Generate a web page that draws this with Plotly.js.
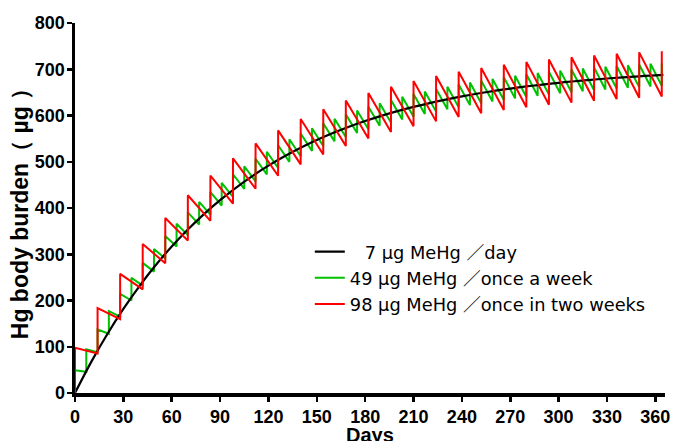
<!DOCTYPE html>
<html>
<head>
<meta charset="utf-8">
<script src="https://cdn.plot.ly/plotly-3.0.1.min.js"></script>
<style>html,body{margin:0;padding:0;background:#fff;}#chart{width:673px;height:441px;}</style>
</head>
<body>
<div id="chart"></div>
<script>
// ---- Data ----
// 7 ug MeHg / day (smooth curve)
const dailyDays = [0,10,20,30,40,50,60,70,80,90,100,110,120,130,140,150,160,170,180,190,200,210,220,230,240,250,260,270,280,290,300,310,320,330,340,350,360,365];
const dailyBurden = [0,66.7,127.0,181.7,231.2,276.1,316.7,353.5,386.8,417.0,444.3,469.1,491.5,511.8,530.2,546.9,562.0,575.6,588.0,599.2,609.4,618.6,626.9,634.4,641.3,647.5,653.1,658.2,662.8,666.9,670.7,674.1,677.2,680.0,682.5,684.8,686.9,687.9];

// 49 ug MeHg / once a week : burden just before and just after each dose
const weeklyDays = [0,7,14,21,28,35,42,49,56,63,70,77,84,91,98,105,112,119,126,133,140,147,154,161,168,175,182,189,196,203,210,217,224,231,238,245,252,259,266,273,280,287,294,301,308,315,322,329,336,343,350,357,364];
const weeklyBefore = [0,45.7,88.4,128.2,165.3,200.0,232.3,262.5,290.6,316.9,341.4,364.2,385.5,405.4,424.0,441.3,457.5,472.6,486.7,499.8,512.0,523.5,534.1,544.1,553.4,562.0,570.1,577.6,584.7,591.3,597.4,603.1,608.4,613.4,618.0,622.4,626.4,630.2,633.7,637.0,640.0,642.9,645.6,648.1,650.4,652.5,654.6,656.4,658.2,659.8,661.4,662.8,664.1];
const weeklyAfter = [49,94.7,137.4,177.2,214.3,249.0,281.3,311.5,339.6,365.9,390.4,413.2,434.5,454.4,473.0,490.3,506.5,521.6,535.7,548.8,561.0,572.5,583.1,593.1,602.4,611.0,619.1,626.6,633.7,640.3,646.4,652.1,657.4,662.4,667.0,671.4,675.4,679.2,682.7,686.0,689.0,691.9,694.6,697.1,699.4,701.5,703.6,705.4,707.2,708.8,710.4,711.8,713.1];

// 98 ug MeHg / once in two weeks : burden just before and just after each dose
const biweeklyDays = [0,14,28,42,56,70,84,98,112,126,140,154,168,182,196,210,224,238,252,266,280,294,308,322,336,350,364];
const biweeklyBefore = [0,85.3,159.6,224.2,280.5,329.5,372.2,409.3,441.7,469.8,494.3,515.6,534.2,550.4,564.4,576.7,587.3,596.6,604.7,611.7,617.9,623.2,627.8,631.9,635.4,638.5,641.1];
const biweeklyAfter = [98,183.3,257.6,322.2,378.5,427.5,470.2,507.3,539.7,567.8,592.3,613.6,632.2,648.4,662.4,674.7,685.3,694.6,702.7,709.7,715.9,721.2,725.8,729.9,733.4,736.5,739.1];

const seriesNames = ['\u2007\u20097 µg MeHg ／day', '49 µg MeHg ／once a week', '98 µg MeHg ／once in two weeks'];
const xTickVals = [0,30,60,90,120,150,180,210,240,270,300,330,360];
const yTickVals = [0,100,200,300,400,500,600,700,800];
const xTitle = 'Days';
const yTitle = '\u00a0\u00a0Hg body burden（ µg ）';

// Build step (dose jump) paths from the before/after arrays
function doseSeries(days, before, after) {
  const x = [], y = [];
  for (let i = 0; i < days.length; i++) {
    x.push(days[i], days[i]);
    y.push(before[i], after[i]);
  }
  return {x, y};
}
const wk = doseSeries(weeklyDays, weeklyBefore, weeklyAfter);
const bw = doseSeries(biweeklyDays, biweeklyBefore, biweeklyAfter);

const traces = [
  {x: wk.x, y: wk.y, mode: 'lines', name: seriesNames[1], legendrank: 2,
   line: {color: '#00C000', width: 2}},
  {x: dailyDays, y: dailyBurden, mode: 'lines', name: seriesNames[0], legendrank: 1,
   line: {color: '#000000', width: 2.2, shape: 'spline'}},
  {x: bw.x, y: bw.y, mode: 'lines', name: seriesNames[2], legendrank: 3,
   line: {color: '#FF0000', width: 2}}
];

const boldFont = 'Liberation Sans, Arial, sans-serif';
const tickFont = {family: boldFont, size: 18, color: '#000', weight: 'bold'};

const layout = {
  width: 673, height: 441,
  margin: {l: 75, r: 8, t: 23, b: 48},
  paper_bgcolor: '#fff', plot_bgcolor: '#fff',
  showlegend: true,
  legend: {
    x: 0.398, xanchor: 'left', y: 0.431, yanchor: 'top',
    bgcolor: 'rgba(0,0,0,0)', borderwidth: 0,
    font: {family: 'DejaVu Sans, Noto Sans CJK JP, sans-serif', size: 17.8, color: '#000'},
    tracegroupgap: 0
  },
  xaxis: {
    range: [0, 366], tickvals: xTickVals, ticktext: xTickVals.map(String),
    showgrid: false, zeroline: false,
    showline: true, linecolor: '#000', linewidth: 3.5,
    ticks: 'outside', ticklen: 5, tickwidth: 2.5, tickcolor: '#000',
    tickfont: tickFont,
    title: {text: ''}
  },
  yaxis: {
    range: [0, 800], tickvals: yTickVals, ticktext: yTickVals.map(String),
    showgrid: false, zeroline: false,
    showline: true, linecolor: '#000', linewidth: 3.5,
    ticks: 'outside', ticklen: 5, tickwidth: 2.5, tickcolor: '#000',
    ticklabelstandoff: -2,
    tickfont: tickFont,
    title: {text: yTitle, standoff: 1,
      font: {family: boldFont, size: 23, color: '#000', weight: 'bold'}}
  },
  annotations: [{
    text: xTitle, xref: 'paper', yref: 'paper', x: 0.5, y: 0,
    xanchor: 'center', yanchor: 'top', yshift: -29, showarrow: false,
    font: {family: boldFont, size: 20, color: '#000', weight: 'bold'}
  }]
};

Plotly.newPlot('chart', traces, layout, {displayModeBar: false, staticPlot: true});
</script>
</body>
</html>
